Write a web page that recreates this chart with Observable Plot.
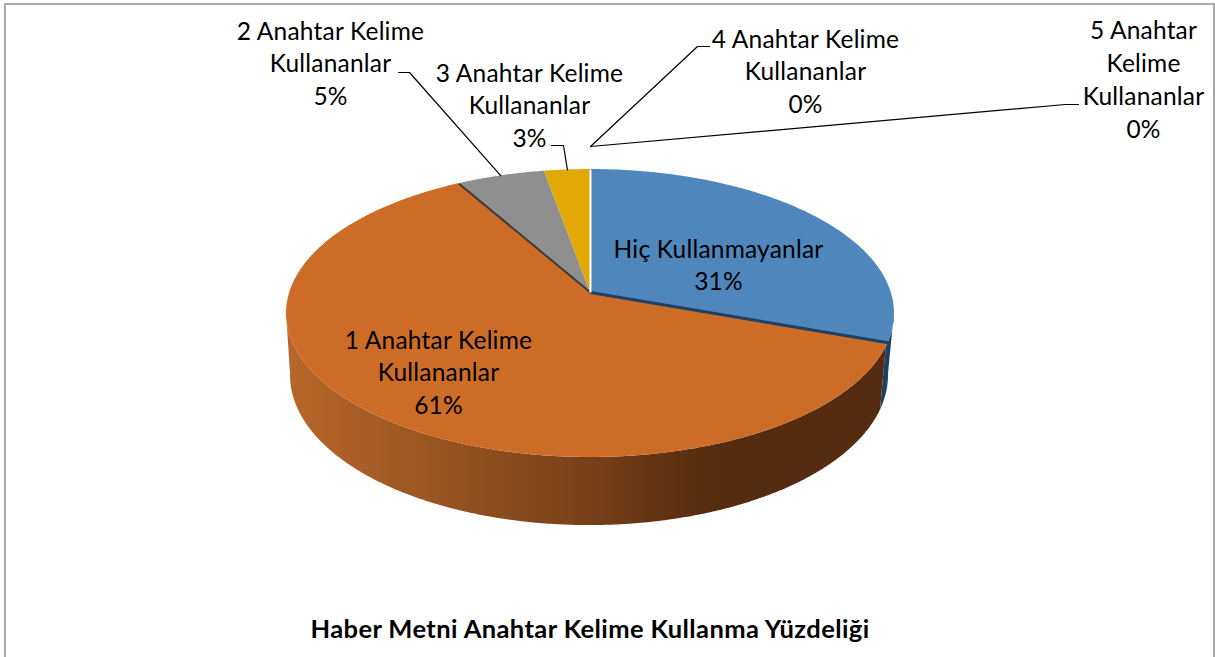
<!DOCTYPE html>
<html lang="tr">
<head>
<meta charset="utf-8">
<title>Haber Metni Anahtar Kelime Kullanma Yüzdeliği</title>
<script src="https://cdn.jsdelivr.net/npm/d3@7"></script>
<script src="https://cdn.jsdelivr.net/npm/@observablehq/plot@0.6"></script>
<style>
  html, body { margin: 0; padding: 0; background: #fff; overflow: hidden; }
  #page { position: relative; width: 1215px; height: 657px; overflow: hidden; }
  #frame { position: absolute; left: 4px; top: 3px; width: 1207px; height: 700px; border: 2px solid #a9a9a9; }
  #chart { position: absolute; left: 0; top: 0; }
  #title { position: absolute; left: 0; width: 1180px; top: 612px; margin: 0; text-align: center;
           font: 700 25.5px/32px Lato, sans-serif; letter-spacing: 0.4px; color: #000; }
</style>
</head>
<body>
<div id="page">
  <div id="frame"></div>
  <div id="chart"></div>
  <h2 id="title">Haber Metni Anahtar Kelime Kullanma Yüzdeliği</h2>
</div>
<script>
// --- data ---
const categories = [
  "Hiç Kullanmayanlar",
  "1 Anahtar Kelime Kullananlar",
  "2 Anahtar Kelime Kullananlar",
  "3 Anahtar Kelime Kullananlar",
  "4 Anahtar Kelime Kullananlar",
  "5 Anahtar Kelime Kullananlar"
];
const shares = [30.5, 61.3, 5.4, 2.8, 0, 0];
const labelLines = [
  ["Hiç Kullanmayanlar"],
  ["1 Anahtar Kelime", "Kullananlar"],
  ["2 Anahtar Kelime", "Kullananlar"],
  ["3 Anahtar Kelime", "Kullananlar"],
  ["4 Anahtar Kelime", "Kullananlar"],
  ["5 Anahtar", "Kelime", "Kullananlar"]
];

// --- styling and layout, separate from the data ---
const sliceColors = ["#4f86bc", "#cc6c27", "#8f8f8f", "#e2a905", "#70a3d4", "#2f5f8f"];
const labelX = [718, 438, 330, 529, 805, 1143];
const labelY = [265.5, 373, 64, 106, 72, 80];
const leaders = [
  {category: 2, bend: [[398, 72], [409, 72]]},
  {category: 3, bend: [[551, 145], [563, 145]]},
  {category: 4, bend: [[709, 46], [697, 46]], tip: [590, 146]},
  {category: 5, bend: [[1078, 104], [1065, 104]], tip: [590, 146]}
];

// Perspective disc: turns a pie angle into picture position, for the top face and the base.
const tilt = 0.1458;
const topFace  = {cx: 590, cy: 292,   a: 300.7, b: 140.9};
const baseFace = {cx: 589, cy: 353.2, a: 295.8, b: 146.8};
function project(face, degrees) {
  const t = degrees * Math.PI / 180, u = Math.sin(t), v = Math.cos(t), d = 1 + tilt * v;
  return [face.cx + face.a * u / d, face.cy - face.b * v / d];
}
const sweep = (from, to) => {
  const out = d3.range(from, to, 0.5);
  out.push(to);
  return out;
};

// Slice angles come from the shares.
let running = 0;
const slices = categories.map((category, i) => {
  const start = running * 3.6;
  running += shares[i];
  return {category, i, start, end: running * 3.6, percent: Math.round(shares[i])};
});

const faceRows = slices.filter(s => s.end > s.start).flatMap(s =>
  sweep(s.start, s.end).map(angle => {
    const [x, y] = project(topFace, angle);
    return {category: s.category, x, y, cx: topFace.cx, cy: topFace.cy};
  })
);

const leftSilhouette = 262, rightSilhouette = 98, wallOverlap = 1.5;
const wallRows = (from, to) => sweep(from, to).map(angle => {
  const [x1, y1] = project(topFace, angle), [x2, y2] = project(baseFace, angle);
  return {x1, y1, x2, y2};
});
const blueEnd = slices[0].end + wallOverlap;
const blueWall = wallRows(rightSilhouette, blueEnd);
const orangeWall = wallRows(blueEnd, leftSilhouette);

const edge = (angle) => {
  const [x2, y2] = project(topFace, angle);
  return {x1: topFace.cx, y1: topFace.cy, x2, y2};
};

const leaderRows = leaders.flatMap(l => {
  const s = slices[l.category];
  const tip = l.tip ?? project(topFace, (s.start + s.end) / 2);
  return [...l.bend, tip].map(([x, y]) => ({leader: l.category, x, y}));
});

const labelRows = slices.map((s, i) => ({
  x: labelX[i],
  y: labelY[i] - 2.5,
  text: [...labelLines[i], s.percent + "%"].join("\n")
}));

function wallGradient() {
  const defs = d3.create("svg:defs");
  const g = defs.append("linearGradient").attr("id", "orangeWallShade");
  [[0, "#b7672b"], [0.15, "#a65c25"], [0.32, "#8f4f1e"], [0.49, "#7a411a"], [0.66, "#5c3010"], [0.72, "#552c0f"], [1, "#552c0f"]]
    .forEach(([o, c]) => g.append("stop").attr("offset", o).attr("stop-color", c));
  return defs.node();
}

const plot = Plot.plot({
  width: 1215,
  height: 600,
  margin: 0,
  x: {domain: [0, 1215], range: [0, 1215], axis: null},
  y: {domain: [0, 600], range: [0, 600], axis: null},
  color: {domain: categories, range: sliceColors},
  style: {background: "transparent", fontFamily: "Lato, sans-serif", letterSpacing: "0.2px"},
  marks: [
    wallGradient,
    Plot.area(blueWall, {x1: "x1", y1: "y1", x2: "x2", y2: "y2", fill: "#1f4062"}),
    Plot.area(orangeWall, {x1: "x1", y1: "y1", x2: "x2", y2: "y2", fill: "url(#orangeWallShade)"}),
    Plot.area(faceRows, {x1: "cx", y1: "cy", x2: "x", y2: "y", fill: "category", z: "category"}),
    Plot.link([edge(slices[0].end)], {x1: "x1", y1: "y1", x2: "x2", y2: "y2", stroke: "#1f4062", strokeWidth: 3}),
    Plot.link([edge(slices[1].end)], {x1: "x1", y1: "y1", x2: "x2", y2: "y2", stroke: "#3f3a36", strokeWidth: 2}),
    Plot.link([edge(0)], {x1: "x1", y1: "y1", x2: "x2", y2: "y2", stroke: "#ffffff", strokeWidth: 2}),
    Plot.line(leaderRows, {x: "x", y: "y", z: "leader", stroke: "#000", strokeWidth: 1.2}),
    Plot.text(labelRows, {x: "x", y: "y", text: "text", fontSize: 24.5, lineHeight: 1.335, fill: "#000", textAnchor: "middle"})
  ]
});
document.getElementById("chart").append(plot);
</script>
</body>
</html>
